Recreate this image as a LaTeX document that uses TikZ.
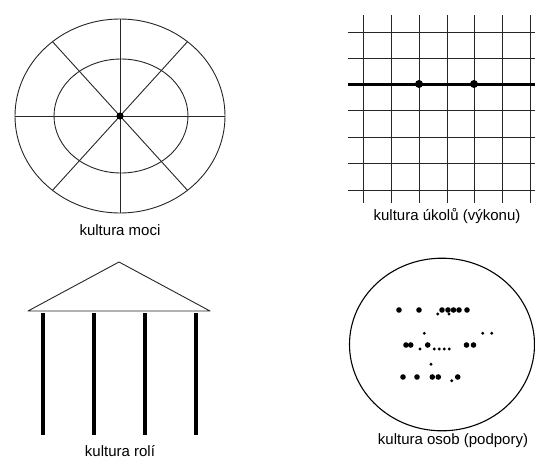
\documentclass[tikz,border=0pt]{standalone}
\usepackage{fontspec}
\setmainfont{Liberation Sans}
\usepackage{tikz}
\usetikzlibrary{calc}

\begin{document}
\begin{tikzpicture}[x=1pt,y=-1pt,
  thinline/.style={line width=0.9pt, draw=black!85},
  caption/.style={anchor=base, font=\fontsize{15}{17}\selectfont},
  bigdot/.style={fill=black},
  smalldot/.style={fill=black}]
\useasboundingbox (0,0) rectangle (535,458);
% kultura moci
\draw[thinline] (120,116) ellipse (105 and 97);
\draw[thinline] (121,116) ellipse (67 and 57);
\draw[thinline] (15,116) -- (225,116)
		(120,19) -- (120,213);
\foreach \ang in {50,130,230,310}
	\draw[thinline] (120,116) -- ++(\ang:105 and 97);
\fill (120,116) circle (3.6);
\node[caption] (moci) at (120,235) {kultura moci}; %label
% kultura ukolu
\foreach \gx in {363,391,419,447,474,502,530}
	\draw[thinline] (\gx,15) -- (\gx,203);
\foreach \gy in {32,58,110,137,163,190}
	\draw[thinline] (348,\gy) -- (535,\gy);
\draw[line width=3pt] (348,84) -- (535,84);
\fill (419,84) circle (4) (474,84) circle (4);
\node[caption] (ukolu) at (447,220) {kultura úkolů (výkonu)}; %label
% kultura roli
\draw[thinline, line join=round] (28,311) -- (119,262) -- (210,311) -- cycle;
\foreach \cx in {43,94,145,196}
	\draw[line width=4pt] (\cx,313) -- (\cx,435);
\node[caption] (roli) at (120,456) {kultura rolí}; %label
% kultura osob
\draw[line width=1.1pt] (442,344.5) ellipse (92.5 and 86.3);
\foreach \px/\py in {399/310,419/310,442/310,448/310,453.5/310,459/310,467/310,
		406/345,410.7/345,427.7/345,466.5/345,473.5/345,
		403/377,417/377,432.3/377,438.3/377,457.7/377}
	\fill[bigdot] (\px,\py) circle (2.8);
\foreach \px/\py in {437.7/314,449/314,424.3/333.3,482.7/333.3,491.7/333.3,
		420/349,434.3/349,439.3/349,444.3/349,449.3/349,
		431/364.3,451.7/380.7}
	\fill[smalldot] (\px,\py) circle (1.6);
\node[caption] (osob) at (453,444) {kultura osob (podpory)}; %label
\end{tikzpicture}
\end{document}
